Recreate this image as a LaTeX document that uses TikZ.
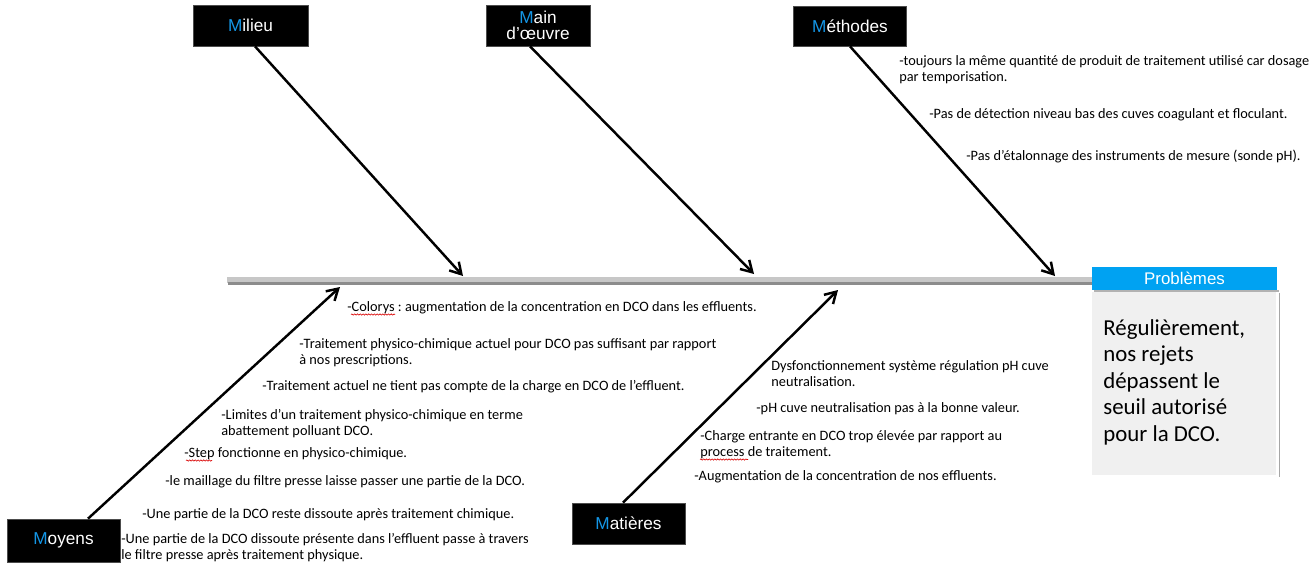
\documentclass[tikz,border=0pt]{standalone}
\usepackage{fontspec}
\setmainfont{Carlito}
\newfontfamily\arialfont{Liberation Sans}
\usetikzlibrary{arrows.meta,calc,decorations.pathmorphing}
\frenchspacing
\definecolor{catblue}{RGB}{20,150,230}
\definecolor{headblue}{RGB}{0,162,242}
\tikzset{
	catbox/.style={fill=black, draw=black!70, text=white, font=\arialfont\fontsize{9.8}{9}\selectfont, align=center, inner sep=0pt},
	bone/.style={line width=1.4pt, -{Straight Barb[length=2.2mm,width=2.6mm]}},
	note/.style={anchor=north west, align=left, inner sep=0pt, font=\fontsize{8.15}{9.2}\selectfont},
	spell/.style={red!85!black, line width=0.35pt, decorate, decoration={snake, amplitude=0.35pt, segment length=1.6pt}}
}
\newcommand{\Mcat}{\textcolor{catblue}{M}}

\begin{document}
\begin{tikzpicture}[x=0.02cm, y=-0.02cm]
			%%%%% START %%%%%
			\useasboundingbox (0, 0) rectangle (1314, 562);
			
			% spine
			\fill[black!22] (227, 277) rectangle (1092, 282.5);
			\draw[line width=1.3pt, black!45] (228, 283.5) -- (1092, 283.5);
			
			% problem box
			\fill[black!35] (1279, 293) rectangle (1280, 477);
			\fill[black!30] (1094, 290) rectangle (1278.5, 291.5);
			\fill[black!6] (1092, 291.5) rectangle (1276, 475);
			\node[fill=headblue, text=white, font=\arialfont\fontsize{9.6}{10}\selectfont, minimum width=3.7cm, minimum height=0.46cm, inner sep=0pt] (probhead) at (1184.5, 278.5) {Problèmes};
			\node[anchor=north west, align=left, inner sep=0pt, font=\fontsize{13}{15.1}\selectfont] (probtext) at (1103, 319) {Régulièrement,\\nos rejets\\dépassent le\\seuil autorisé\\pour la DCO.};
			
			% categories
			\node[catbox, minimum width=2.3cm, minimum height=0.82cm] (milieu) at (250.5, 25.5) {\Mcat ilieu};
			\node[catbox, minimum width=2.08cm, minimum height=0.82cm] (mainoeuvre) at (538, 25.5) {\Mcat ain\\d’œuvre};
			\node[catbox, minimum width=2.26cm, minimum height=0.8cm] (methodes) at (850, 26) {\Mcat éthodes};
			\node[catbox, minimum width=2.26cm, minimum height=0.86cm] (moyens) at (63.5, 540.5) {\Mcat oyens};
			\node[catbox, minimum width=2.26cm, minimum height=0.82cm] (matieres) at (628.5, 523.5) {\Mcat atières};
			
			\coordinate (s1) at (463, 276);
			\coordinate (s2) at (754, 274);
			\coordinate (s3) at (1055, 276);
			\coordinate (s4) at (340, 287);
			\coordinate (s5) at (838, 290);
			
			\draw[bone] ($(milieu.south)+(4.5, 0)$) -- (s1);
			\draw[bone] ($(mainoeuvre.south)+(-8, 0)$) -- (s2);
			\draw[bone] (methodes.south) -- (s3);
			\draw[bone] ($(moyens.north)+(24.5, 0)$) -- (s4);
			\draw[bone] ($(matieres.north)+(-5.5, 0)$) -- (s5);
			
			% Methodes
			\node[note] (me1) at (899, 55) {-toujours la même quantité de produit de traitement utilisé car dosage\\par temporisation.};
			\node[note] (me2) at (929, 108) {-Pas de détection niveau bas des cuves coagulant et floculant.};
			\node[note] (me3) at (966, 150) {-Pas d’étalonnage des instruments de mesure (sonde pH).};
			
			% Moyens
			\node[note] (mo1) at (347, 301) {-Colorys : augmentation de la concentration en DCO dans les effluents.};
			\node[note] (mo2) at (299, 338) {-Traitement physico-chimique actuel pour DCO pas suffisant par rapport\\ à nos prescriptions.};
			\node[note] (mo3) at (262, 380) {-Traitement actuel ne tient pas compte de la charge en DCO de l’effluent.};
			\node[note] (mo4) at (221, 409) {-Limites d’un traitement physico-chimique en terme\\ abattement polluant DCO.};
			\node[note] (mo5) at (184, 447) {-Step fonctionne en physico-chimique.};
			\node[note] (mo6) at (165, 475) {-le maillage du filtre presse laisse passer une partie de la DCO.};
			\node[note] (mo7) at (142, 508) {-Une partie de la DCO reste dissoute après traitement chimique.};
			\node[note] (mo8) at (121, 533) {-Une partie de la DCO dissoute présente dans l’effluent passe à travers\\le filtre presse après traitement physique.};
			
			% Matieres
			\node[note] (ma1) at (771, 360) {Dysfonctionnement système régulation pH cuve\\neutralisation.};
			\node[note] (ma2) at (756, 402) {-pH cuve neutralisation pas à la bonne valeur.};
			\node[note] (ma3) at (700, 430) {-Charge entrante en DCO trop élevée par rapport au\\process de traitement.};
			\node[note] (ma4) at (694, 470) {-Augmentation de la concentration de nos effluents.};
			
			% spell check marks
			\draw[spell] (351, 314.5) -- (395, 314.5);
			\draw[spell] (186, 460.5) -- (212, 460.5);
			\draw[spell] (700, 459.5) -- (748, 459.5);
			%%%%% END %%%%%
\end{tikzpicture}
\end{document}
